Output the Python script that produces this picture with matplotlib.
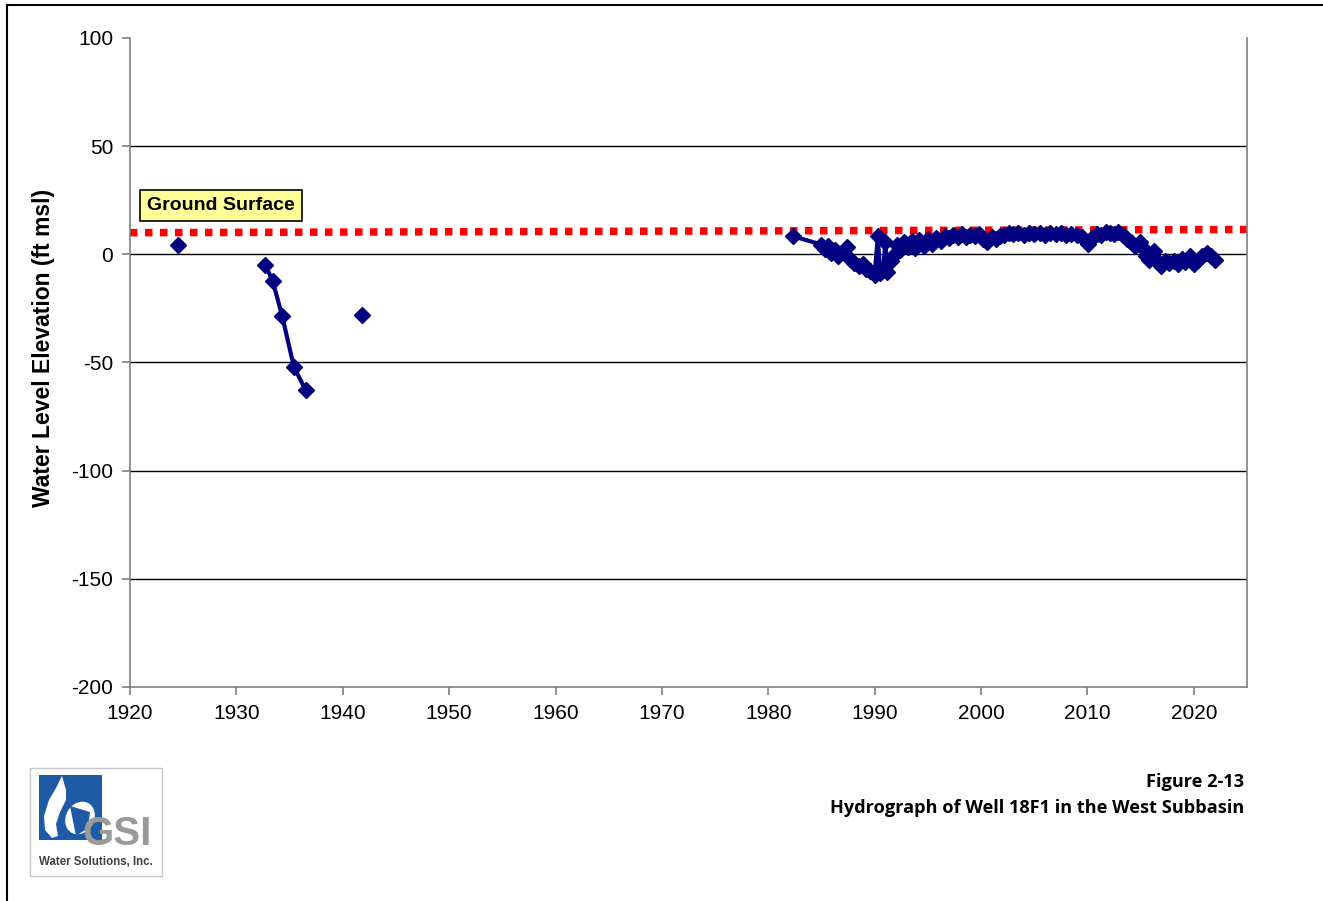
import numpy as np
import matplotlib.pyplot as plt
from matplotlib.patches import Rectangle, Polygon, Ellipse

# Well 18F1 water levels (ft msl); NaN breaks the line between survey periods
years = [1924.5, np.nan,
         1932.7, 1933.4, 1934.3, 1935.4, 1936.5, np.nan,
         1941.8, np.nan,
         1982.3, 1985.0, 1985.3, 1985.6, 1985.9, 1986.3, 1986.6, 1987.0,
         1987.4, 1987.7, 1988.1, 1988.5, 1988.9, 1989.2, 1989.6, 1990.0,
         1990.3, 1990.5, 1990.8, 1991.0, 1991.2, 1991.5, 1991.8, 1992.1,
         1992.4, 1992.8, 1993.1, 1993.5, 1993.8, 1994.2, 1994.6, 1995.0,
         1995.4, 1995.8, 1996.2, 1996.6, 1997.0, 1997.4, 1997.8, 1998.2,
         1998.6, 1999.0, 1999.4, 1999.8, 2000.2, 2000.6, 2001.0, 2001.4,
         2001.8, 2002.2, 2002.6, 2003.0, 2003.5, 2004.0, 2004.5, 2005.0,
         2005.5, 2006.0, 2006.5, 2007.0, 2007.5, 2008.0, 2008.5, 2009.0,
         2009.5, 2010.1, 2010.5, 2010.9, 2011.3, 2011.7, 2012.1, 2012.5,
         2012.9, 2013.3, 2013.7, 2014.1, 2014.5, 2014.9, 2015.2, 2015.5,
         2015.8, 2016.1, 2016.3, 2016.6, 2016.9, 2017.3, 2017.7, 2018.1,
         2018.5, 2018.9, 2019.2, 2019.6, 2020.0, 2020.4, 2020.8, 2021.2,
         2021.6, 2022.0]
levels = [4.1, np.nan,
          -4.9, -12.1, -28.4, -51.9, -62.7, np.nan,
          -28.0, np.nan,
          8.4, 4.5, 2.5, 4.0, 0.5, 2.0, -1.0, 1.0,
          3.5, -2.0, -4.0, -5.5, -4.5, -7.0, -7.5, -9.5,
          8.5, -8.5, -7.0, 5.5, -8.0, -3.0, -0.5, 4.5,
          2.0, 5.5, 3.5, 6.0, 3.0, 6.5, 4.0, 7.0,
          5.0, 7.5, 6.0, 8.5, 7.5, 9.0, 8.0, 9.5,
          8.0, 9.0, 8.5, 9.5, 7.0, 5.5, 8.0, 7.0,
          8.5, 9.0, 10.0, 9.5, 10.0, 9.0, 10.0, 9.5,
          10.0, 9.0, 10.0, 9.5, 10.0, 9.0, 9.5, 9.0,
          8.0, 5.0, 8.0, 9.5, 9.0, 10.5, 10.0, 9.5,
          10.5, 9.0, 7.0, 5.5, 4.0, 5.5, 3.0, -1.0,
          -2.5, -0.5, 1.5, -3.5, -5.5, -3.0, -4.0, -3.0,
          -4.5, -2.0, -3.5, -1.0, -4.5, -2.5, -1.0, 0.5,
          -1.0, -2.5]

# ground surface reference line
gs_years = [1920, 2025]
gs_levels = [10.0, 11.5]

x_ticks = list(range(1920, 2030, 10))
y_ticks = [-200, -150, -100, -50, 0, 50, 100]

W, H = 1323, 901
plt.rcParams['font.family'] = ['Liberation Sans', 'DejaVu Sans']
plt.rcParams['axes.unicode_minus'] = False
fig = plt.figure(figsize=(W / 100, H / 100), dpi=100)

ax = fig.add_axes([130 / W, 1 - 687 / H, (1247 - 130) / W, (687 - 38) / H])
ax.set_xlim(1920, 2025)
ax.set_ylim(-200, 100)
ax.set_xticks(x_ticks)
ax.set_yticks(y_ticks)
for yv in y_ticks[1:-1]:
    ax.axhline(yv, color='black', lw=1.0, zorder=1)

ax.plot(gs_years, gs_levels, color='#ff0000', lw=5.4, ls=(0, (1, 1)),
        dash_capstyle='butt', zorder=2)
ax.plot(years, levels, color='#000080', lw=3.0, marker='D', ms=8.5,
        zorder=3)

for side in ['left', 'bottom', 'right']:
    ax.spines[side].set_color('#808080')
    ax.spines[side].set_linewidth(1.2)
ax.spines['top'].set_visible(False)
ax.tick_params(direction='out', length=6, width=1.2, color='#808080',
               labelsize=15, pad=6)
ax.set_ylabel('Water Level Elevation (ft msl)', fontsize=16.5,
              fontweight='bold')
ax.yaxis.set_label_coords(-75 / (1247 - 130), 0.523)

ax.text(1921.6, 22.5, 'Ground Surface', fontsize=14, fontweight='bold',
        va='center', ha='left', zorder=5,
        bbox=dict(boxstyle='square,pad=0.35', fc='#ffff99', ec='black',
                  lw=1.2))

# overlay in pixel units for the frame, caption and logo
ov = fig.add_axes([0, 0, 1, 1], zorder=-1)
ov.set_xlim(0, W)
ov.set_ylim(H, 0)
ov.axis('off')
ov.plot([7, 7], [5, H], color='black', lw=1.5)
ov.plot([7, W], [5, 5], color='black', lw=1.5)

ov.text(1244, 782, 'Figure 2-13', ha='right', va='center', fontsize=13.1,
        fontweight='bold', family=['Open Sans', 'DejaVu Sans'])
ov.text(1244, 808, 'Hydrograph of Well 18F1 in the West Subbasin',
        ha='right', va='center', fontsize=13.1, fontweight='bold',
        family=['Open Sans', 'DejaVu Sans'])

# GSI logo
ov.add_patch(Rectangle((30, 768), 132, 108, fc='white', ec='#c8c8c8', lw=1))
ov.add_patch(Rectangle((39, 775), 63, 65, fc='#1f5aa6', ec='none'))
drop = Polygon([(62, 776), (66, 790), (66, 800), (60, 812), (56, 824),
                (58, 836), (52, 838), (45, 830), (44, 816), (49, 800),
                (56, 788)],
               closed=True, fc='white', ec='none')
ov.add_patch(drop)
ov.add_patch(Ellipse((80, 818), 28, 34, angle=30, fc='white', ec='none'))
ov.add_patch(Polygon([(70, 806), (90, 812), (88, 828), (76, 836)],
                     closed=True, fc='#1f5aa6', ec='none'))
ov.text(117, 834, 'GSI', ha='center', va='center', fontsize=29,
        fontweight='bold', color='#9a9a9a')
ov.text(96, 862, 'Water Solutions, Inc.', ha='center', va='center',
        fontsize=8.3, fontweight='bold', color='#404040')

fig.savefig('out.png', dpi=100)
